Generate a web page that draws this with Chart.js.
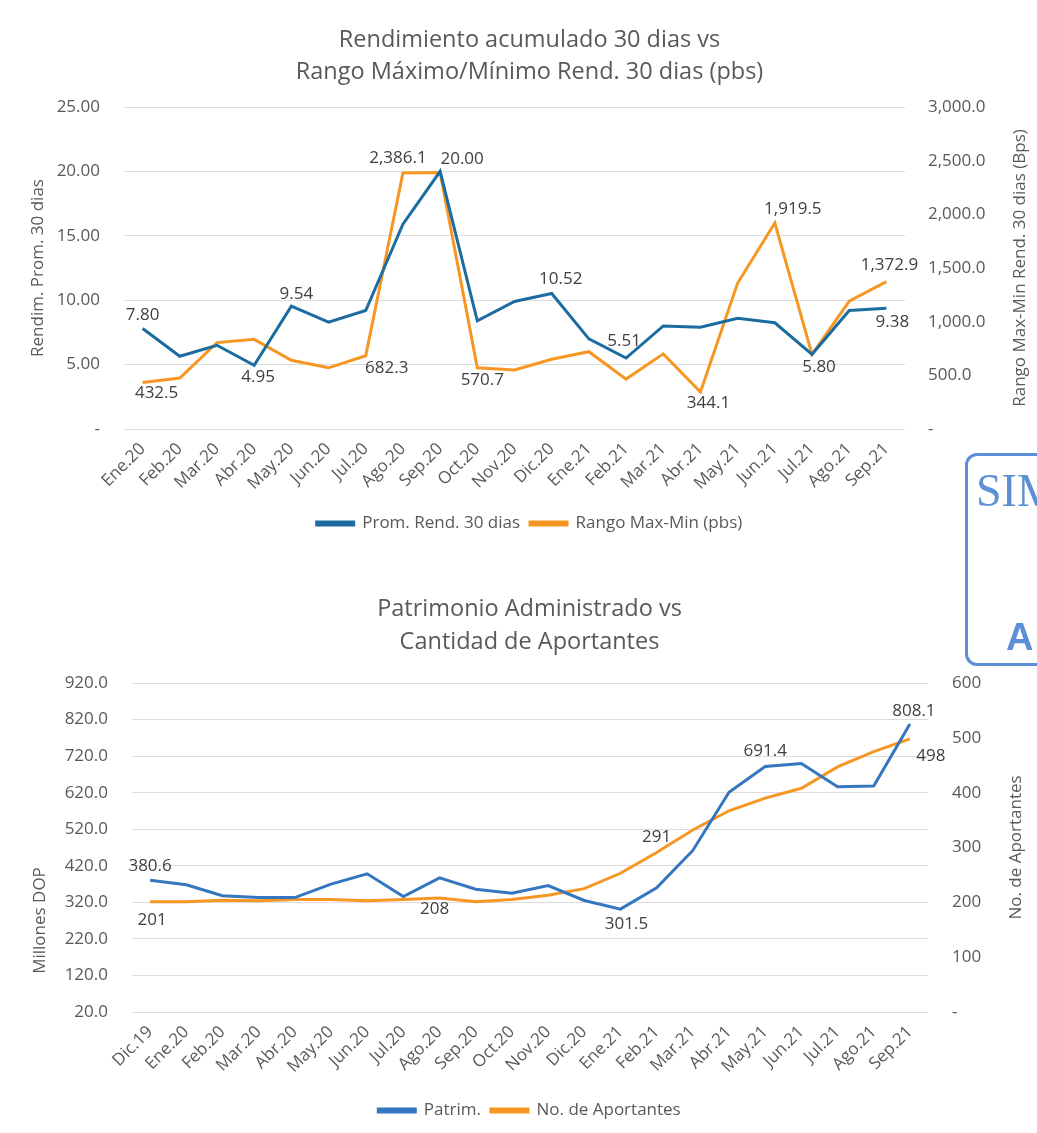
<!DOCTYPE html>
<html>
<head>
<meta charset="utf-8">
<script src="https://cdn.jsdelivr.net/npm/chart.js@4.4.0/dist/chart.umd.min.js"></script>
<style>
  body { margin: 0; background: #fff; width: 1037px; height: 1133px; overflow: hidden; position: relative; font-family: "Open Sans", sans-serif; }
  #graf1 { position: absolute; left: 0; top: 0; }
  #graf2 { position: absolute; left: 0; top: 560px; }
  .sello { position: absolute; left: 965px; top: 453px; width: 110px; height: 207px; border: 3px solid #5d8fd6; border-radius: 12px; color: #5d8fd6; }
  .sello .s1 { position: absolute; left: 8px; top: 8px; font-family: "Liberation Serif", serif; font-size: 46px; }
  .sello .s2 { position: absolute; left: 38px; top: 160px; font-family: "Liberation Sans", sans-serif; font-weight: bold; font-size: 38px; }
</style>
</head>
<body>
<canvas id="graf1" width="1037" height="560"></canvas>
<canvas id="graf2" width="1037" height="573"></canvas>
<div class="sello"><span class="s1">SIM</span><span class="s2">A</span></div>

<script>
// ---- datos grafico 1
var mesesRend = ['Ene.20','Feb.20','Mar.20','Abr.20','May.20','Jun.20','Jul.20','Ago.20','Sep.20','Oct.20','Nov.20','Dic.20',
                 'Ene.21','Feb.21','Mar.21','Abr.21','May.21','Jun.21','Jul.21','Ago.21','Sep.21'];
var rendProm = [7.80, 5.65, 6.5, 4.95, 9.54, 8.3, 9.2, 15.9, 20.00, 8.4, 9.9, 10.52, 7.0, 5.51, 8.0, 7.9, 8.6, 8.25, 5.80, 9.2, 9.38];
var rangoMaxMin = [432.5, 475, 805, 835, 640, 570, 682.3, 2386.1, 2390, 570.7, 550, 650, 720, 465, 700, 344.1, 1360, 1919.5, 695, 1190, 1372.9];

// ---- datos grafico 2
var mesesPatrim = ['Dic.19','Ene.20','Feb.20','Mar.20','Abr.20','May.20','Jun.20','Jul.20','Ago.20','Sep.20','Oct.20','Nov.20','Dic.20',
                   'Ene.21','Feb.21','Mar.21','Abr.21','May.21','Jun.21','Jul.21','Ago.21','Sep.21'];
var patrim = [380.6, 368, 338, 333, 333, 370, 398, 336, 387, 356, 345, 366, 325, 301.5, 360, 462, 621, 691.4, 700, 636, 638, 808.1];
var aportantes = [201, 201, 204, 203, 205, 205, 203, 205, 208, 201, 205, 213, 225, 253, 291, 332, 367, 390, 408, 447, 475, 498];

var azulRend = 'rgb(28,108,160)';
var azulPatrim = 'rgb(52,118,192)';
var naranja = 'rgb(247,150,35)';
var gris = '#595959';

Chart.defaults.font.family = '"Open Sans", sans-serif';
Chart.defaults.color = gris;

function fmtMiles(v, dec) {
  return v.toLocaleString('en-US', { minimumFractionDigits: dec, maximumFractionDigits: dec });
}

// etiquetas de datos y titulos de ejes (leen de abajo hacia arriba en los dos lados)
function etiquetas(items, formatos, titulos) {
  return {
    id: 'etiquetas',
    afterDatasetsDraw(chart) {
      const ctx = chart.ctx;
      const area = chart.chartArea;
      ctx.save();
      ctx.font = '17px "Open Sans"';
      ctx.fillStyle = '#404040';
      ctx.textAlign = 'center';
      ctx.textBaseline = 'middle';
      items.forEach(([ds, i, dx, dy]) => {
        const pt = chart.getDatasetMeta(ds).data[i];
        ctx.fillText(formatos[ds](chart.data.datasets[ds].data[i]), pt.x + dx, pt.y + dy);
      });
      ctx.fillStyle = gris;
      titulos.forEach(t => {
        ctx.save();
        ctx.font = '17px "Open Sans"';
        ctx.translate(t.x, (area.top + area.bottom) / 2 + (t.dy || 0));
        ctx.rotate(-Math.PI / 2);
        ctx.fillText(t.text, 0, 0);
        ctx.restore();
      });
      ctx.restore();
    }
  };
}

const graf1 = new Chart(document.getElementById('graf1'), {
  type: 'line',
  data: {
    labels: mesesRend,
    datasets: [
      { label: 'Prom. Rend. 30 dias', data: rendProm, borderColor: azulRend, backgroundColor: azulRend, yAxisID: 'y' },
      { label: 'Rango Max-Min (pbs)', data: rangoMaxMin, borderColor: naranja, backgroundColor: naranja, yAxisID: 'y1' }
    ]
  },
  options: {
    responsive: false,
    animation: false,
    layout: { padding: { left: 22, right: 0, top: 0, bottom: 18 } },
    elements: { line: { borderWidth: 3, tension: 0 }, point: { radius: 0 } },
    plugins: {
      title: {
        display: true,
        text: ['Rendimiento acumulado 30 dias vs', 'Rango Máximo/Mínimo Rend. 30 dias (pbs)'],
        font: { size: 23.5, weight: 'normal', lineHeight: '32px' },
        color: gris,
        padding: { top: 24, bottom: 19 }
      },
      legend: {
        position: 'bottom',
        labels: { boxWidth: 37, boxHeight: 3, font: { size: 17 }, color: gris, padding: 10 }
      },
      tooltip: { enabled: false }
    },
    scales: {
      x: {
        offset: true,
        grid: { display: false },
        border: { display: false },
        ticks: { minRotation: 45, maxRotation: 45, autoSkip: false, font: { size: 17 }, padding: 2 },
        afterFit(s) { s.height = 76; }
      },
      y: {
        position: 'left',
        min: 0, max: 25,
        ticks: { stepSize: 5, padding: 24, font: { size: 17 }, callback: v => v === 0 ? '-' : v.toFixed(2) },
        grid: { color: '#dcdcdc', drawTicks: false },
        border: { display: false },
        afterFit(s) { s.width = 102; }
      },
      y1: {
        position: 'right',
        min: 0, max: 3000,
        ticks: { stepSize: 500, padding: 23, font: { size: 17 }, callback: v => v === 0 ? '-' : fmtMiles(v, 1) },
        grid: { display: false, drawTicks: false },
        border: { display: false },
        afterFit(s) { s.width = 132; }
      }
    }
  },
  plugins: [etiquetas(
    [[0, 0, 0, -13], [0, 3, 4, 12], [0, 4, 5, -12], [0, 8, 22, -12], [0, 11, 9, -14], [0, 13, -2, -17], [0, 18, 7, 13], [0, 20, 6, 14],
     [1, 0, 14, 11], [1, 6, 21, 12], [1, 7, -5, -15], [1, 9, 5, 12], [1, 15, 8, 11], [1, 17, 18, -14], [1, 20, 3, -16]],
    [v => v.toFixed(2), v => fmtMiles(v, 1)],
    [{ text: 'Rendim. Prom. 30 dias', x: 38 }, { text: 'Rango Max-Min Rend. 30 dias (Bps)', x: 1020 }]
  )]
});

const graf2 = new Chart(document.getElementById('graf2'), {
  type: 'line',
  data: {
    labels: mesesPatrim,
    datasets: [
      { label: 'Patrim.', data: patrim, borderColor: azulPatrim, backgroundColor: azulPatrim, yAxisID: 'y' },
      { label: 'No. de Aportantes', data: aportantes, borderColor: naranja, backgroundColor: naranja, yAxisID: 'y1' }
    ]
  },
  options: {
    responsive: false,
    animation: false,
    layout: { padding: { left: 22, right: 0, top: 0, bottom: 4 } },
    elements: { line: { borderWidth: 3, tension: 0 }, point: { radius: 0 } },
    plugins: {
      title: {
        display: true,
        text: ['Patrimonio Administrado vs', 'Cantidad de Aportantes'],
        font: { size: 23.5, weight: 'normal', lineHeight: '33px' },
        color: gris,
        padding: { top: 33, bottom: 24 }
      },
      legend: {
        position: 'bottom',
        labels: { boxWidth: 37, boxHeight: 3, font: { size: 17 }, color: gris, padding: 10 }
      },
      tooltip: { enabled: false }
    },
    scales: {
      x: {
        offset: true,
        grid: { display: false },
        border: { display: false },
        ticks: { minRotation: 45, maxRotation: 45, autoSkip: false, font: { size: 17 }, padding: 2 },
        afterFit(s) { s.height = 80; }
      },
      y: {
        position: 'left',
        min: 20, max: 920,
        ticks: { stepSize: 100, padding: 24, font: { size: 17 }, callback: v => v.toFixed(1) },
        grid: { color: '#dcdcdc', drawTicks: false },
        border: { display: false },
        afterFit(s) { s.width = 110; }
      },
      y1: {
        position: 'right',
        min: 0, max: 600,
        ticks: { stepSize: 100, padding: 24, font: { size: 17 }, callback: v => v === 0 ? '-' : String(v) },
        grid: { display: false, drawTicks: false },
        border: { display: false },
        afterFit(s) { s.width = 109; }
      }
    }
  },
  plugins: [etiquetas(
    [[0, 0, 0, -14], [0, 13, 6, 15], [0, 17, 0, -15], [0, 21, 4, -13],
     [1, 0, 2, 18], [1, 8, -5, 11], [1, 14, 0, -15], [1, 21, 21, 17]],
    [v => v.toFixed(1), v => String(v)],
    [{ text: 'Millones DOP', x: 40, dy: 73 }, { text: 'No. de Aportantes', x: 1016 }]
  )]
});
</script>
</body>
</html>
